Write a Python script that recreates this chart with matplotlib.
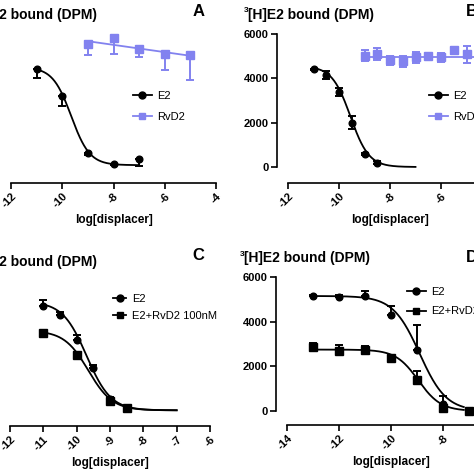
import numpy as np
import matplotlib
matplotlib.use('Agg')
import matplotlib.pyplot as plt
from matplotlib.lines import Line2D

plt.rcParams['font.family'] = ['Liberation Sans', 'DejaVu Sans']
plt.rcParams['axes.unicode_minus'] = False

# ---- data ----
# A: E2 and RvD2 displacement
a_e2_x = [-11, -10, -9, -8, -7]
a_e2_y = [5800, 4180, 780, 120, 420]
a_e2_err = [540, 600, 150, 60, 400]          # drawn below only
a_rv_x = [-9, -8, -7, -6, -5]
a_rv_y = [7280, 7640, 6990, 6690, 6630]
a_rv_err = [650, 960, 480, 960, 1490]        # drawn below only
a_e2_fit = dict(top=5900, bottom=50, logic50=-9.65, hill=1.2, lo=-11, hi=-7)
a_rv_line_x = [-9, -5]
a_rv_line_y = [7450, 6580]

# B: E2 and RvD2 displacement
b_e2_x = [-11, -10.5, -10, -9.5, -9, -8.5]
b_e2_y = [4400, 4130, 3370, 2000, 590, 200]
b_e2_err = [40, 180, 180, 290, 60, 50]
b_rv_x = [-9, -8.5, -8, -7.5, -7, -6.5, -6, -5.5, -5]
b_rv_y = [5030, 5080, 4810, 4760, 4940, 4990, 4940, 5260, 5080]
b_rv_err = [240, 270, 200, 240, 245, 130, 225, 170, 390]
b_e2_fit = dict(top=4550, bottom=0, logic50=-9.55, hill=1.2, lo=-11, hi=-7)
b_rv_line_x = [-9, -4]
b_rv_line_y = [4950, 4950]

# C: E2 alone vs E2 + RvD2 100nM
c_e2_x = [-11, -10.5, -10, -9.5, -9, -8.5]
c_e2_y = [4720, 4310, 3190, 1930, 540, 130]
c_e2_err = [270, 140, 225, 120, 80, 30]      # drawn above only
c_rv_x = [-11, -10, -9, -8.5]
c_rv_y = [3510, 2520, 450, 130]
c_rv_err = [50, 120, 60, 30]
c_e2_fit = dict(top=4900, bottom=30, logic50=-9.7, hill=1.2, lo=-11, hi=-7)
c_rv_fit = dict(top=3600, bottom=30, logic50=-9.65, hill=1.2, lo=-11, hi=-7)

# D: E2 alone vs E2 + RvD2
d_e2_x = [-13, -12, -11, -10, -9, -8, -7]
d_e2_y = [5170, 5120, 5170, 4310, 2740, 310, 0]
d_e2_err = [40, 80, 220, 400, 1120, 360, 0]   # drawn above only
d_rv_x = [-13, -12, -11, -10, -9, -8, -7]
d_rv_y = [2880, 2700, 2740, 2380, 1390, 130, 0]
d_rv_err = [180, 250, 180, 60, 420, 60, 0]
d_e2_fit = dict(top=5150, bottom=0, logic50=-8.9, hill=0.85, lo=-13, hi=-7.2)
d_rv_fit = dict(top=2750, bottom=0, logic50=-8.95, hill=1.0, lo=-13, hi=-7.2)

ylabel = '[H]E2 bound (DPM)'
xlabel = 'log[displacer]'
rv_color = '#8282ef'

W = 474.0
fig = plt.figure(figsize=(4.74, 4.74), dpi=100)


def rect(left, right, top, bottom):
    # pixel box -> figure fraction
    return [left / W, 1 - bottom / W, (right - left) / W, (bottom - top) / W]


def fp(x, y):
    return (x / W, 1 - y / W)


def curve(ax, p, color='k'):
    xs = np.linspace(p['lo'], p['hi'], 200)
    ys = p['bottom'] + (p['top'] - p['bottom']) / (1 + 10 ** ((xs - p['logic50']) * p['hill']))
    ax.plot(xs, ys, color=color, lw=1.3, clip_on=False, zorder=2)


def points(ax, x, y, err, side, marker, color='k'):
    err = np.array(err)
    zero = np.zeros_like(err)
    if side == 'down':
        yerr = [err, zero]
    elif side == 'up':
        yerr = [zero, err]
    else:
        yerr = [err, err]
    ax.errorbar(x, y, yerr=yerr, fmt=marker, color=color, ms=4.8 if marker == 'o' else 5.2,
                capsize=3, elinewidth=1.4, capthick=1.4, clip_on=False, zorder=3)


def style(ax, xlim, xticks, ylim, yticks, left_off, bottom_off):
    ax.set_xlim(xlim)
    ax.set_ylim(ylim)
    ax.set_xticks(xticks)
    ax.set_yticks(yticks)
    for s in ['top', 'right']:
        ax.spines[s].set_visible(False)
    ax.spines['left'].set_position(('outward', left_off * 0.72))
    ax.spines['bottom'].set_position(('outward', bottom_off * 0.72))
    for s in ['left', 'bottom']:
        ax.spines[s].set_linewidth(1.2)
    ax.tick_params(direction='out', length=4, width=1.2, pad=2)
    ax.set_xticklabels([str(t) for t in xticks], rotation=45, ha='right', va='top',
                       rotation_mode='anchor', fontsize=8, fontweight='bold')
    ax.set_yticklabels([str(t) for t in yticks], fontsize=8, fontweight='bold')
    ax.patch.set_visible(False)


axA = fig.add_axes(rect(11, 216, 32, 166))
axB = fig.add_axes(rect(288, 492, 34, 167))
axC = fig.add_axes(rect(10, 210, 277, 411))
axD = fig.add_axes(rect(287, 495, 277, 411))

style(axA, (-12, -4), [-12, -10, -8, -6, -4], (0, 8000), [0, 2000, 4000, 6000, 8000], 12, 17)
style(axB, (-12, -4), [-12, -10, -8, -6, -4], (0, 6000), [0, 2000, 4000, 6000], 11, 16)
style(axC, (-12, -6), [-12, -11, -10, -9, -8, -7, -6], (0, 6000), [0, 2000, 4000, 6000], 12, 15)
style(axD, (-14, -6), [-14, -12, -10, -8, -6], (0, 6000), [0, 2000, 4000, 6000], 11, 14)

# A
curve(axA, a_e2_fit)
axA.plot(a_rv_line_x, a_rv_line_y, color=rv_color, lw=1.3)
points(axA, a_e2_x, a_e2_y, a_e2_err, 'down', 'o')
points(axA, a_rv_x, a_rv_y, a_rv_err, 'down', 's', rv_color)

# B
curve(axB, b_e2_fit)
axB.plot(b_rv_line_x, b_rv_line_y, color=rv_color, lw=1.3, clip_on=False)
points(axB, b_e2_x, b_e2_y, b_e2_err, 'both', 'o')
points(axB, b_rv_x, b_rv_y, b_rv_err, 'both', 's', rv_color)

# C
curve(axC, c_e2_fit)
curve(axC, c_rv_fit)
points(axC, c_e2_x, c_e2_y, c_e2_err, 'up', 'o')
points(axC, c_rv_x, c_rv_y, c_rv_err, 'up', 's')

# D
curve(axD, d_e2_fit)
curve(axD, d_rv_fit)
points(axD, d_e2_x, d_e2_y, d_e2_err, 'up', 'o')
points(axD, d_rv_x, d_rv_y, d_rv_err, 'up', 's')

# x labels
for ax in [axA, axB, axC, axD]:
    ax.set_xlabel(xlabel, fontsize=8.5, fontweight='bold', labelpad=3)

# y labels as titles at the top left
for (x, y) in [(-33, 15), (244, 15), (-33, 262), (240, 258)]:
    fig.text(*fp(x, y - 4), '3', fontsize=6, fontweight='bold', ha='left', va='center')
    fig.text(*fp(x + 4, y), ylabel, fontsize=10, fontweight='bold', ha='left', va='center')

# panel letters
fig.text(*fp(199, 12), 'A', fontsize=12, fontweight='bold', ha='center', va='center')
fig.text(*fp(466, 12), 'B', fontsize=12, fontweight='bold', ha='left', va='center')
fig.text(*fp(198, 256), 'C', fontsize=12, fontweight='bold', ha='center', va='center')
fig.text(*fp(466, 258), 'D', fontsize=12, fontweight='bold', ha='left', va='center')


def legend(ax, x, y, labels, markers, colors, hl=1.7, ls=0.75):
    handles = [Line2D([], [], color=c, marker=m, ms=5, lw=1.3) for m, c in zip(markers, colors)]
    ax.legend(handles, labels, loc='upper left', bbox_to_anchor=fp(x, y),
              bbox_transform=fig.transFigure, frameon=False, fontsize=8,
              handlelength=hl, handletextpad=0.5, labelspacing=ls,
              borderpad=0, borderaxespad=0)


legend(axA, 133, 91, ['E2', 'RvD2'], ['o', 's'], ['k', rv_color], ls=0.95)
legend(axB, 429, 91, ['E2', 'RvD2'], ['o', 's'], ['k', rv_color], ls=0.95)
legend(axC, 113, 294, ['E2', 'E2+RvD2 100nM'], ['o', 's'], ['k', 'k'], hl=1.2, ls=0.65)
legend(axD, 407, 287, ['E2', 'E2+RvD2'], ['o', 's'], ['k', 'k'], ls=0.85)

fig.savefig('out.png', dpi=100)
